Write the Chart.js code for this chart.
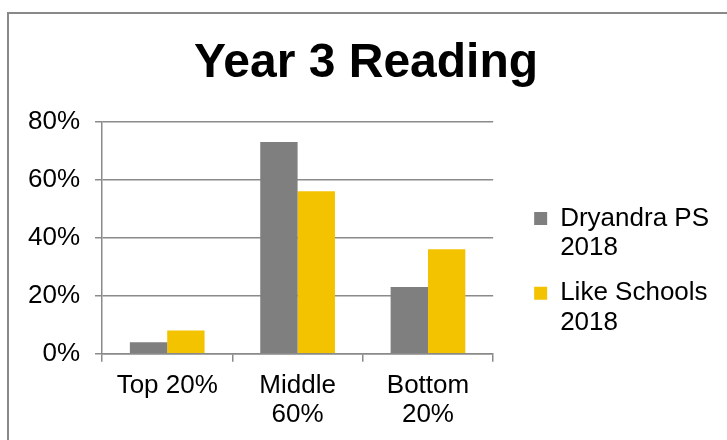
<!DOCTYPE html>
<html>
<head>
<meta charset="utf-8">
<script src="https://cdn.jsdelivr.net/npm/chart.js@4.4.1/dist/chart.umd.min.js"></script>
<style>
  html, body { margin: 0; padding: 0; background: #fff; }
  #frame {
    position: absolute; left: 7px; top: 12px; width: 730px; height: 440px;
    border-left: 2px solid #898989; border-top: 2px solid #898989;
  }
  #wrap { position: absolute; left: 0; top: 0; width: 727px; height: 440px; }
</style>
</head>
<body>
<div id="frame"></div>
<div id="wrap"><canvas id="chart"></canvas></div>
<script>
const categories = ['Top 20%', ['Middle', '60%'], ['Bottom', '20%']];
const seriesNames = [['Dryandra PS', '2018'], ['Like Schools', '2018']];
const dryandra = [4, 73, 23];
const likeSchools = [8, 56, 36];
const yTicks = [0, 20, 40, 60, 80];

const gridColor = '#8a8a8a';
const font = 'Liberation Sans, Arial, sans-serif';

new Chart(document.getElementById('chart'), {
    type: 'bar',
    data: {
        labels: categories,
        datasets: [{
            label: seriesNames[0],
            data: dryandra,
            backgroundColor: '#7f7f7f'
        }, {
            label: seriesNames[1],
            data: likeSchools,
            backgroundColor: '#f4c300'
        }]
    },
    options: {
        responsive: true,
        maintainAspectRatio: false,
        animation: false,
        layout: { padding: { left: 13, right: 8, top: 0, bottom: 1 } },
        datasets: { bar: { barPercentage: 1, categoryPercentage: 0.573 } },
        plugins: {
            title: {
                display: true,
                text: 'Year 3 Reading',
                color: '#000',
                font: { family: font, size: 48, weight: 'bold', lineHeight: 1.2 },
                padding: { top: 35, bottom: 29 }
            },
            legend: {
                position: 'right',
                maxWidth: 300,
                // blank title, just pushes the entries down
                title: { display: true, text: ' ', color: '#000', padding: { top: 0, bottom: 92 } },
                labels: {
                    color: '#000',
                    font: { family: font, size: 26, lineHeight: 1.15 },
                    boxWidth: 13,
                    boxHeight: 13,
                    padding: 15,
                    generateLabels: function(chart) {
                        return chart.data.datasets.map((ds, i) => ({
                            text: ds.label,
                            fillStyle: ds.backgroundColor,
                            strokeStyle: ds.backgroundColor,
                            fontColor: '#000',
                            lineWidth: 0,
                            hidden: false,
                            datasetIndex: i
                        }));
                    }
                }
            },
            tooltip: { enabled: false }
        },
        scales: {
            x: {
                grid: {
                    display: true,
                    drawOnChartArea: false,
                    drawTicks: true,
                    tickLength: 8,
                    color: gridColor,
                    lineWidth: 1.5
                },
                border: { display: true, color: gridColor, width: 1.5 },
                ticks: {
                    color: '#000',
                    padding: 10,
                    maxRotation: 0,
                    font: { family: font, size: 26, lineHeight: 1.1 }
                }
            },
            y: {
                min: 0,
                max: 80,
                afterBuildTicks: function(axis) {
                    axis.ticks = yTicks.map(v => ({ value: v }));
                },
                grid: {
                    color: gridColor,
                    lineWidth: 1.5,
                    drawTicks: true,
                    tickLength: 7
                },
                border: { display: true, color: gridColor, width: 1.5 },
                ticks: {
                    color: '#000',
                    padding: 15,
                    font: { family: font, size: 26 },
                    callback: v => v + '%'
                }
            },
            // empty axis on the right, only keeps the gap before the legend
            gap: {
                type: 'linear',
                position: 'right',
                display: true,
                grid: { display: false },
                border: { display: false },
                ticks: { display: false },
                afterFit: function(axis) { axis.width = 26; }
            }
        }
    }
});
</script>
</body>
</html>
